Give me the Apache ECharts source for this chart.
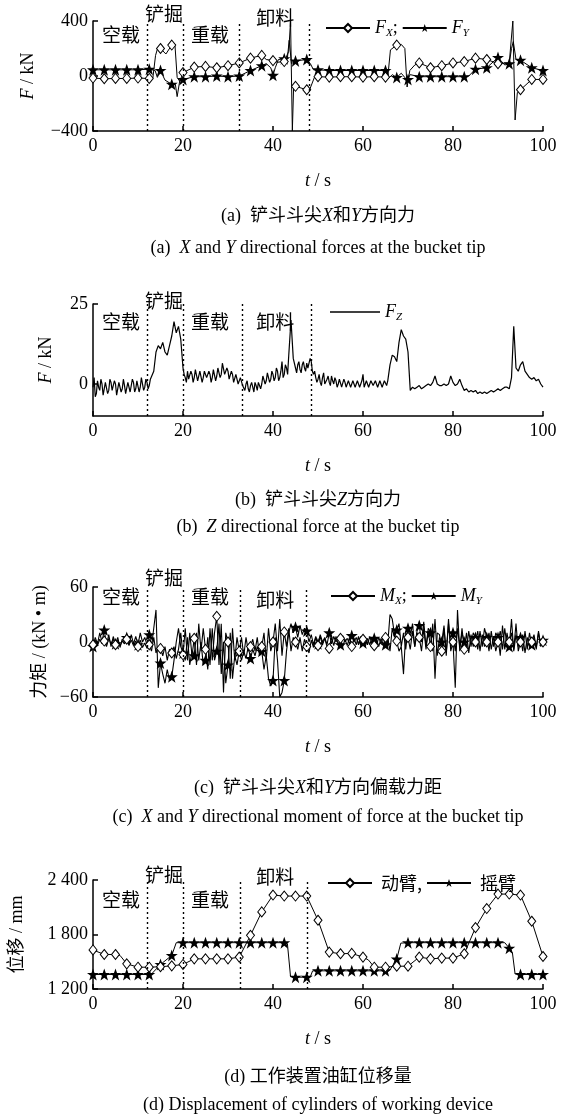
<!DOCTYPE html>
<html><head><meta charset="utf-8">
<script src="https://cdn.jsdelivr.net/npm/echarts@6/dist/echarts.min.js"></script>
<style>html,body{margin:0;padding:0;background:#fff}#c{width:575px;height:1117px}</style>
</head><body><div id="c"></div>
<script>
// ---------------- DATA ----------------
const xTicks = [0, 20, 40, 60, 80, 100];
const phaseNames = ['空载', '铲掘', '重载', '卸料'];
const phaseT = [6.2, 15.8, 26, 40.5];            // label anchor times
const dividersA = [12, 20, 32.6, 48.1];
const dividersB = [12, 20, 33.2, 48.4];
const dividersC = [12, 20, 32.8, 47.4];
const dividersD = [12, 20, 32.8, 47.6];

// (a) F_X (diamonds) and F_Y (stars), kN
const fxMark = [[0,-15],[2.5,-20],[5,-18],[7.5,-18],[10,-15],[12.5,-18],[15,200],[17.5,225],[20,25],[22.5,65],[25,70],[27.5,60],[30,75],[32.5,95],[35,130],[37.5,150],[40,112],[42.5,105],[45,-75],[47.5,-100],[50,-5],[52.5,-8],[55,-5],[57.5,-5],[60,-8],[62.5,-5],[65,-8],[67.5,225],[72.5,95],[75,60],[77.5,75],[80,95],[82.5,105],[85,130],[87.5,120],[90,90],[95,-100],[97.5,-25],[100,-25]];
const fxRaw = [[13.3,-15],[13.9,150],[14.3,195],[16.2,160],[18.2,232],[18.7,-10],[19.3,-40],[38.5,120],[41,100],[43.5,180],[43.9,400],[44.3,-400],[44.6,-60],[48.2,-95],[49.2,-10],[65.5,-10],[66.1,190],[68.5,230],[69.3,200],[69.8,-80],[70.4,40],[71.5,80],[92.5,95],[93.3,400],[93.8,-320],[94.3,-120]];
const fyMark = [[0,45],[2.5,45],[5,45],[7.5,45],[10,45],[12.5,50],[15,40],[17.5,-60],[20,-25],[22.5,-5],[25,-5],[27.5,0],[30,-5],[32.5,0],[35,40],[37.5,75],[40,5],[42.5,125],[45,110],[47.5,120],[50,45],[52.5,40],[55,40],[57.5,40],[60,40],[62.5,40],[65,40],[67.5,-10],[70,-25],[72.5,-5],[75,-5],[77.5,-5],[80,-5],[82.5,-5],[85,50],[87.5,60],[90,135],[92.5,90],[95,115],[97.5,60],[100,40]];
const fyRaw = [[13.8,40],[14.3,-10],[16,-30],[18.3,-60],[18.7,-150],[19.3,-30],[38.5,90],[39.5,60],[40.5,60],[41.2,120],[43.2,130],[43.6,260],[44.1,90],[48.3,90],[49,45],[65.6,-20],[66.5,10],[68.5,20],[69.8,-30],[70.5,10],[83.5,0],[91.5,80],[93,200],[93.4,250],[94,120]];

// (b) F_Z, kN
const fz = [[0,-1],[0.5,-4],[1,1],[1.5,-2],[2,0],[2.5,-3],[3,1],[3.5,-2],[4,0.5],[4.5,-2.5],[5,0],[5.5,-3],[6,1],[6.5,-1.5],[7,-0.5],[7.5,-2.5],[8,1],[8.5,-2],[9,0.5],[9.5,-1.5],[10,1],[10.5,-1],[11,1.5],[11.5,-1],[12,0.5],[12.5,-0.5],[13,1],[13.5,4],[14,10],[14.5,12],[15,11],[15.5,13],[16,10],[16.5,9],[17,12],[17.5,15],[18,19.5],[18.5,16],[19,18],[19.5,14],[20,5],[20.5,2],[21,4],[21.5,1],[22,3],[22.5,2],[23,4],[23.5,1.5],[24,3.5],[24.5,2],[25,4.5],[25.5,1.5],[26,3],[26.5,2],[27,4],[27.5,2.5],[28,5.5],[28.5,3],[29,6],[29.5,2.5],[30,4],[30.5,2],[31,3],[31.5,1],[32,2.5],[32.5,0.5],[33,1.5],[33.5,-1],[34,0],[34.5,-1.5],[35,-0.5],[35.5,-1],[36,0.5],[36.5,-2],[37,1],[37.5,0],[38,2],[38.5,1],[39,3],[39.5,1.5],[40,3],[40.5,2],[41,4],[41.5,2],[42,7],[42.5,3],[43,5],[43.5,9],[44,20],[44.5,8],[45,5],[45.5,6],[46,4.5],[46.5,6],[47,5],[47.5,6.5],[48,5.5],[48.5,7],[49,3],[49.5,2],[50,1.5],[50.5,0.5],[51,2],[51.5,0],[52,1.5],[52.5,0.5],[53,2.5],[53.5,0],[54,1],[54.5,0],[55,1],[55.5,-0.5],[56,0.5],[56.5,0],[57,0.5],[57.5,-0.5],[58,0.5],[58.5,0],[59,0.5],[59.5,-0.5],[60,3],[60.5,0],[61,0.5],[61.5,-0.5],[62,0.5],[62.5,-1],[63,0.5],[63.5,-0.5],[64,0.5],[64.5,-1],[65,0.5],[65.5,1],[66,6],[66.5,9],[67,8.5],[67.5,7],[68,13],[68.5,17],[69,15],[69.5,14],[70,10],[70.5,-2],[71,-1],[71.5,-1.5],[72,-1],[72.5,-0.5],[73,-1.5],[73.5,-1],[74,-0.5],[74.5,0],[75,-0.5],[75.5,0.5],[76,2.5],[76.5,0],[77,-0.5],[77.5,-0.5],[78,0],[78.5,-0.5],[79,0],[79.5,2.5],[80,0.5],[80.5,-0.5],[81,0],[81.5,1.5],[82,-0.5],[82.5,-2],[83,-1.5],[83.5,-2.5],[84,-2],[84.5,-2.5],[85,-2],[85.5,-3],[86,-2.5],[86.5,-3],[87,-2.5],[87.5,-3],[88,-2.5],[88.5,-2],[89,-2.5],[89.5,-2],[90,-1.5],[90.5,-2],[91,-1.5],[91.5,-1],[92,-1],[92.5,-1.5],[93,2],[93.5,18],[94,5],[94.5,4],[95,6],[95.5,7],[96,4],[96.5,3],[97,2],[97.5,1.5],[98,2],[98.5,1],[99,1.5],[99.5,0],[100,-1]];
// extra in-between readings of the noisy stretches of F_Z
const fzFine = [[0.25,2],[0.75,-3],[1.25,-1],[1.75,1.5],[2.25,-3.5],[2.75,0.5],[3.25,-3],[3.75,1.5],[4.25,-2],[4.75,1],[5.25,-3.5],[5.75,0.5],[6.25,-2.5],[6.75,1.5],[7.25,-3],[7.75,0.5],[8.25,-2.5],[8.75,1.5],[9.25,-2.5],[9.75,1],[10.25,-2.5],[10.75,2],[11.25,-2],[11.75,1.5],[12.25,-1.5],[12.75,1.5],[20.25,3],[20.75,0.5],[21.25,1.5],[21.75,4],[22.25,0.5],[22.75,4.5],[23.25,1],[23.75,4],[24.25,0.5],[24.75,4],[25.25,2],[25.75,4],[26.25,0.5],[26.75,4.5],[27.25,1],[27.75,5],[28.25,2],[28.75,6.5],[29.25,3],[29.75,5],[30.25,1.5],[30.75,4],[31.25,0.5],[31.75,3],[32.25,0],[32.75,2],[33.25,-0.5],[33.75,-2],[34.25,1],[34.75,-2.5],[35.25,0.5],[35.75,-2.5],[36.25,-0.5],[36.75,0.5],[37.25,-1.5],[37.75,2.5],[38.25,0],[38.75,3.5],[39.25,0.5],[39.75,4],[40.25,1],[40.75,5],[41.25,1],[41.75,4],[42.25,2],[42.75,6],[43.25,3],[45.25,3.5],[45.75,7],[46.25,3.5],[46.75,7],[47.25,4],[47.75,5],[48.25,8],[48.75,4],[49.25,4],[49.75,0.5],[50.25,3],[50.75,-0.5],[51.25,3.5],[51.75,-0.5],[52.25,2.5],[52.75,-0.5],[53.25,1],[53.75,2],[54.25,-1],[54.75,1.5],[55.25,-1],[55.75,1.5],[56.25,-1],[56.75,1],[57.25,-1],[57.75,1],[58.25,-1],[58.75,1],[59.25,-1],[59.75,1],[60.25,-1],[60.75,1],[61.25,-1],[61.75,1],[62.25,-0.5],[62.75,1],[63.25,-1],[63.75,1],[64.25,-1],[64.75,1],[65.25,-0.5]];

// (c) M_X (diamonds) and M_Y (stars), kN·m
const mx = [[0,-3],[0.5,2],[1,-4],[1.5,3],[2,-2],[2.5,1],[3,-5],[3.5,4],[4,-2],[4.5,3],[5,-3],[5.5,2],[6,-4],[6.5,1],[7,-2],[7.5,3],[8,-3],[8.5,2],[9,-4],[9.5,1],[10,-5],[10.5,2],[11,-6],[11.5,-1],[12,-7],[12.5,-3],[13,-10],[13.5,5],[14,-12],[14.5,-5],[15,-7],[15.5,-15],[16,-5],[16.5,-20],[17,-8],[17.5,-12],[18,-5],[18.5,-18],[19,-8],[19.5,10],[20,-14],[20.5,15],[21,-20],[21.5,10],[22,-15],[22.5,4],[23,-25],[23.5,20],[24,-10],[24.5,15],[25,-8],[25.5,-30],[26,15],[26.5,-20],[27,10],[27.5,28],[28,-25],[28.5,20],[29,-55],[29.5,10],[30,0],[30.5,-40],[31,15],[31.5,-20],[32,5],[32.5,-10],[33,5],[33.5,-15],[34,5],[34.5,-10],[35,-5],[35.5,3],[36,-10],[36.5,5],[37,-15],[37.5,-5],[38,10],[38.5,-20],[39,15],[39.5,-10],[40,0],[40.5,20],[41,-10],[41.5,25],[42,-15],[42.5,11],[43,-5],[43.5,15],[44,-10],[44.5,5],[45,0],[45.5,-8],[46,5],[46.5,-10],[47,3],[47.5,-5],[48,-12],[48.5,2],[49,-6],[49.5,5],[50,-4],[50.5,6],[51,-3],[51.5,4],[52,-5],[52.5,-7],[53,5],[53.5,-4],[54,6],[54.5,-3],[55,4],[55.5,-5],[56,3],[56.5,-4],[57,5],[57.5,-5],[58,4],[58.5,-3],[59,6],[59.5,-4],[60,3],[60.5,-5],[61,4],[61.5,-3],[62,5],[62.5,-4],[63,3],[63.5,-5],[64,4],[64.5,-3],[65,5],[65.5,-2],[66,30],[66.5,25],[67,8],[67.5,1],[68,-10],[68.5,-5],[69,-35],[69.5,10],[70,5],[70.5,-8],[71,12],[71.5,-5],[72,10],[72.5,5],[73,-10],[73.5,15],[74,-8],[74.5,12],[75,-5],[75.5,20],[76,-40],[76.5,10],[77,8],[77.5,-10],[78,15],[78.5,-15],[79,25],[79.5,-10],[80,0],[80.5,-50],[81,35],[81.5,-10],[82,15],[82.5,-8],[83,10],[83.5,-12],[84,8],[84.5,-5],[85,0],[85.5,12],[86,-10],[86.5,8],[87,-5],[87.5,0],[88,10],[88.5,-8],[89,6],[89.5,-10],[90,0],[90.5,12],[91,-8],[91.5,15],[92,-5],[92.5,0],[93,10],[93.5,-8],[94,20],[94.5,-10],[95,0],[95.5,8],[96,-12],[96.5,5],[97,-5],[97.5,0],[98,8],[98.5,-6],[99,10],[99.5,-3],[100,0]];
const my = [[0,-5],[0.5,5],[1,-2],[1.5,10],[2,0],[2.5,13],[3,-3],[3.5,8],[4,-5],[4.5,6],[5,-2],[5.5,5],[6,-6],[6.5,3],[7,0],[7.5,5],[8,-4],[8.5,8],[9,-2],[9.5,6],[10,-3],[10.5,10],[11,0],[11.5,5],[12,-3],[12.5,8],[13,-5],[13.5,15],[14,35],[14.5,-50],[15,-23],[15.5,-35],[16,-45],[16.5,-30],[17,-42],[17.5,-38],[18,-20],[18.5,0],[19,15],[19.5,-5],[20,-12],[20.5,-20],[21,5],[21.5,-25],[22,-10],[22.5,-15],[23,10],[23.5,-20],[24,0],[24.5,-25],[25,-20],[25.5,5],[26,-25],[26.5,15],[27,-20],[27.5,-10],[28,20],[28.5,-35],[29,0],[29.5,-45],[30,-25],[30.5,10],[31,-40],[31.5,-15],[32,-25],[32.5,-10],[33,-20],[33.5,-10],[34,-18],[34.5,-5],[35,-18],[35.5,-8],[36,-15],[36.5,-5],[37,-12],[37.5,-10],[38,-30],[38.5,-15],[39,-40],[39.5,-48],[40,-42],[40.5,5],[41,-20],[41.5,-60],[42,-55],[42.5,-42],[43,-10],[43.5,10],[44,20],[44.5,10],[45,16],[45.5,5],[46,18],[46.5,8],[47,15],[47.5,12],[48,0],[48.5,8],[49,-3],[49.5,6],[50,-2],[50.5,8],[51,0],[51.5,5],[52,-3],[52.5,10],[53,-2],[53.5,6],[54,0],[54.5,5],[55,-3],[55.5,7],[56,0],[56.5,4],[57,-2],[57.5,7],[58,0],[58.5,5],[59,-3],[59.5,6],[60,-1],[60.5,5],[61,-3],[61.5,6],[62,-2],[62.5,4],[63,-4],[63.5,5],[64,-2],[64.5,6],[65,-3],[65.5,5],[66,-10],[66.5,15],[67,5],[67.5,13],[68,20],[68.5,-5],[69,10],[69.5,-8],[70,15],[70.5,5],[71,20],[71.5,-5],[72,12],[72.5,18],[73,0],[73.5,22],[74,-5],[74.5,15],[75,10],[75.5,-10],[76,25],[76.5,-15],[77,5],[77.5,0],[78,18],[78.5,-12],[79,20],[79.5,-5],[80,10],[80.5,-10],[81,15],[81.5,-5],[82,10],[82.5,0],[83,-8],[83.5,12],[84,-5],[84.5,10],[85,5],[85.5,-8],[86,12],[86.5,-5],[87,15],[87.5,5],[88,-10],[88.5,12],[89,-5],[89.5,10],[90,5],[90.5,-15],[91,18],[91.5,-8],[92,10],[92.5,-5],[93,25],[93.5,-10],[94,8],[94.5,-5],[95,5],[95.5,-10],[96,12],[96.5,-8],[97,10],[97.5,-3],[98,5],[98.5,-8],[99,12],[99.5,-5],[100,2]];

// (d) cylinder displacement, mm
const boomMark = [[0,1630],[2.5,1580],[5,1580],[7.5,1477],[10,1440],[12.5,1440],[15,1445],[17.5,1455],[20,1470],[22.5,1532],[25,1532],[27.5,1532],[30,1532],[32.5,1551],[35,1791],[37.5,2049],[40,2234],[42.5,2223],[45,2223],[47.5,2223],[50,1957],[52.5,1606],[55,1588],[57.5,1592],[60,1551],[62.5,1440],[65,1440],[67.5,1451],[70,1451],[72.5,1551],[75,1532],[77.5,1540],[80,1540],[82.5,1588],[85,1876],[87.5,2086],[90,2245],[92.5,2245],[95,2234],[97.5,1946],[100,1558]];
const boomRaw = [[6,1570],[61.2,1520]];
const rockMark = [[0,1360],[2.5,1360],[5,1360],[7.5,1360],[10,1360],[12.5,1360],[15,1470],[17.5,1570],[20,1710],[22.5,1710],[25,1710],[27.5,1710],[30,1710],[32.5,1710],[35,1710],[37.5,1710],[40,1710],[42.5,1710],[45,1330],[47.5,1330],[50,1400],[52.5,1400],[55,1400],[57.5,1400],[60,1400],[62.5,1400],[65,1400],[67.5,1530],[70,1710],[72.5,1710],[75,1710],[77.5,1710],[80,1710],[82.5,1710],[85,1710],[87.5,1710],[90,1710],[92.5,1650],[95,1360],[97.5,1360],[100,1360]];
const rockRaw = [[13,1365],[18.5,1710],[43.2,1700],[43.9,1335],[48.3,1335],[48.8,1400],[66,1410],[68.4,1705],[91.5,1710],[93.2,1600],[93.8,1365]];

// captions
const captions = [
  ['(a)  铲斗斗尖{i|X}和{i|Y}方向力', '(a)  {i|X} and {i|Y} directional forces at the bucket tip'],
  ['(b)  铲斗斗尖{i|Z}方向力', '(b)  {i|Z} directional force at the bucket tip'],
  ['(c)  铲斗斗尖{i|X}和{i|Y}方向偏载力距', '(c)  {i|X} and {i|Y} directional moment of force at the bucket tip'],
  ['(d) 工作装置油缸位移量', '(d) Displacement of cylinders of working device']
];

// ---------------- BUILD ----------------
const FONT = "'Liberation Serif','Noto Sans CJK SC',serif";
const CJK = "'Noto Sans CJK SC',sans-serif";
const STAR = 'path://M12,0L14.9,8.3L23.4,8.3L16.5,13.5L19.1,22L12,16.8L4.9,22L7.5,13.5L0.6,8.3L9.1,8.3Z';
const grids = [
  {left: 93, width: 450, top: 21, height: 110},
  {left: 93, width: 450, top: 304, height: 112},
  {left: 93, width: 450, top: 587, height: 110},
  {left: 93, width: 450, top: 880, height: 109}
];
const capY = [[216, 248], [500, 527], [788, 817], [1077, 1105]];
const phaseY = [[35, 14, 35, 18], [322, 301, 322, 322], [597, 578, 597, 600], [900, 875, 900, 877]];

function merge(mark, raw) {
  const a = mark.map(p => ({value: p}));
  const b = raw.map(p => ({value: p, symbol: 'none'}));
  return a.concat(b).sort((u, v) => u.value[0] - v.value[0]);
}
function everyMark(arr) {
  return arr.map(p => (Math.round(p[0] * 2) % 5 === 0) ? {value: p} : {value: p, symbol: 'none'});
}
const rich = {
  i: {fontStyle: 'italic', fontFamily: FONT, fontSize: 18, color: '#000'},
  s: {fontStyle: 'italic', fontFamily: FONT, fontSize: 11, color: '#000', verticalAlign: 'bottom', padding: [10, 0, 0, 0]},
  n: {fontFamily: FONT, fontSize: 18, color: '#000'}
};
const axisCommon = {
  axisLine: {onZero: false, lineStyle: {color: '#000', width: 1.5}},
  axisTick: {inside: true, length: 5, lineStyle: {color: '#000', width: 1.5}},
  axisLabel: {color: '#000', fontSize: 18, fontFamily: FONT},
  splitLine: {show: false}
};
const minus = v => (v < 0 ? '\u2212' + Math.abs(v) : String(v));
const xAxes = grids.map((g, i) => Object.assign({}, axisCommon, {
  type: 'value', gridIndex: i, min: 0, max: 100, interval: 20,
  axisLabel: Object.assign({}, axisCommon.axisLabel, {margin: 6}),
  name: '{i|t} / s', nameLocation: 'middle', nameGap: 41,
  nameTextStyle: {fontSize: 18, fontFamily: FONT, color: '#000', rich: rich}
}));
const yBase = (i, extra) => Object.assign({}, axisCommon, {
  type: 'value', gridIndex: i, nameLocation: 'middle', nameRotate: 90,
  nameTextStyle: {fontSize: 18, fontFamily: FONT, color: '#000', rich: rich},
  axisLabel: Object.assign({}, axisCommon.axisLabel, {margin: 5, formatter: minus})
}, extra);
const yAxes = [
  yBase(0, {min: -400, max: 400, interval: 400, name: '{i|F} / kN', nameGap: 56}),
  yBase(1, {min: -10, max: 25, name: '{i|F} / kN', nameGap: 38,
    axisLabel: Object.assign({}, axisCommon.axisLabel, {margin: 5, customValues: [0, 25]}),
    axisTick: Object.assign({}, axisCommon.axisTick, {customValues: [0, 25]})}),
  yBase(2, {min: -60, max: 60, interval: 60, name: '力矩 / (kN \u2022 m)', nameGap: 30}),
  yBase(3, {min: 1200, max: 2400, interval: 600, name: '位移 / mm', nameGap: 67,
    axisLabel: Object.assign({}, axisCommon.axisLabel, {margin: 5,
      formatter: v => String(v).replace(/(\d)(\d{3})$/, '$1 $2')})})
];
function dividers(list) {
  return {silent: true, symbol: 'none', label: {show: false},
    lineStyle: {type: [2, 3], color: '#000', width: 1.4},
    data: list.map(t => ({xAxis: t}))};
}
const diamondStyle = {symbol: 'diamond', symbolSize: [8, 10], itemStyle: {color: '#fff', borderColor: '#000', borderWidth: 1}};
const starStyle = {symbol: STAR, symbolSize: 12, itemStyle: {color: '#000', borderColor: '#000', borderWidth: 0}};
function lineSeries(name, i, data, sym, extra) {
  return Object.assign({
    type: 'line', name: name, xAxisIndex: i, yAxisIndex: i, data: data,
    showAllSymbol: true, animation: false,
    lineStyle: {color: '#000', width: 1}
  }, sym || {symbol: 'none', itemStyle: {color: '#000'}}, extra || {});
}
const fzAll = fz.concat(fzFine).sort((a, b) => a[0] - b[0]);
const series = [
  lineSeries('FX', 0, merge(fxMark, fxRaw), diamondStyle, {markLine: dividers(dividersA), z: 3}),
  lineSeries('FY', 0, merge(fyMark, fyRaw), starStyle, {z: 2}),
  lineSeries('FZ', 1, fzAll, null, {markLine: dividers(dividersB), lineStyle: {color: '#000', width: 1.2}}),
  lineSeries('MX', 2, everyMark(mx), diamondStyle, {markLine: dividers(dividersC), z: 3, lineStyle: {color: '#000', width: 1.1}}),
  lineSeries('MY', 2, everyMark(my), starStyle, {z: 2, lineStyle: {color: '#000', width: 1.1}}),
  lineSeries('动臂', 3, merge(boomMark, boomRaw), diamondStyle, {markLine: dividers(dividersD), z: 3}),
  lineSeries('摇臂', 3, merge(rockMark, rockRaw), starStyle, {z: 2})
];
const legendLabels = {FX: '{i|F}{s|X};', FY: '{i|F}{s|Y}', FZ: '{i|F}{s|Z}', MX: '{i|M}{s|X};', MY: '{i|M}{s|Y}', '动臂': '{c|动臂,}', '摇臂': '{c|摇臂}'};
const legendRich = Object.assign({}, rich, {c: {fontFamily: CJK, fontSize: 18, color: '#000', padding: [0, 0, 0, 4]}});
function legend(names, left, top, extra) {
  return Object.assign({data: names, left: left, top: top, itemWidth: 44, itemHeight: 10, itemGap: 4,
    selectedMode: false, formatter: n => legendLabels[n],
    textStyle: {color: '#000', fontSize: 18, fontFamily: FONT, rich: legendRich}}, extra || {});
}
const option = {
  backgroundColor: '#fff',
  animation: false,
  grid: grids,
  xAxis: xAxes,
  yAxis: yAxes,
  legend: [
    legend(['FX', 'FY'], 320, 14),
    legend(['FZ'], 325, 298, {icon: 'rect', itemWidth: 50, itemHeight: 1.3}),
    legend(['MX', 'MY'], 325, 582),
    legend(['动臂', '摇臂'], 322, 869)
  ],
  series: series
};
const chart = echarts.init(document.getElementById('c'), null, {renderer: 'canvas'});
chart.setOption(option);

const graphics = [];
captions.forEach((c, i) => {
  c.forEach((txt, k) => {
    graphics.push({type: 'text', x: 318, y: capY[i][k], silent: true,
      style: {text: txt, fontSize: 18, fontFamily: FONT, fill: '#000', align: 'center', verticalAlign: 'middle',
        rich: {i: {fontStyle: 'italic', fontSize: 18, fontFamily: FONT}}}});
  });
});
phaseY.forEach((ys, i) => {
  phaseNames.forEach((nm, k) => {
    const x = chart.convertToPixel({xAxisIndex: i}, phaseT[k]);
    graphics.push({type: 'text', x: x, y: ys[k], silent: true,
      style: {text: nm, fontSize: 19, fontFamily: CJK, fill: '#000', align: 'center', verticalAlign: 'middle'}});
  });
});
chart.setOption({graphic: graphics});
</script>
</body></html>
